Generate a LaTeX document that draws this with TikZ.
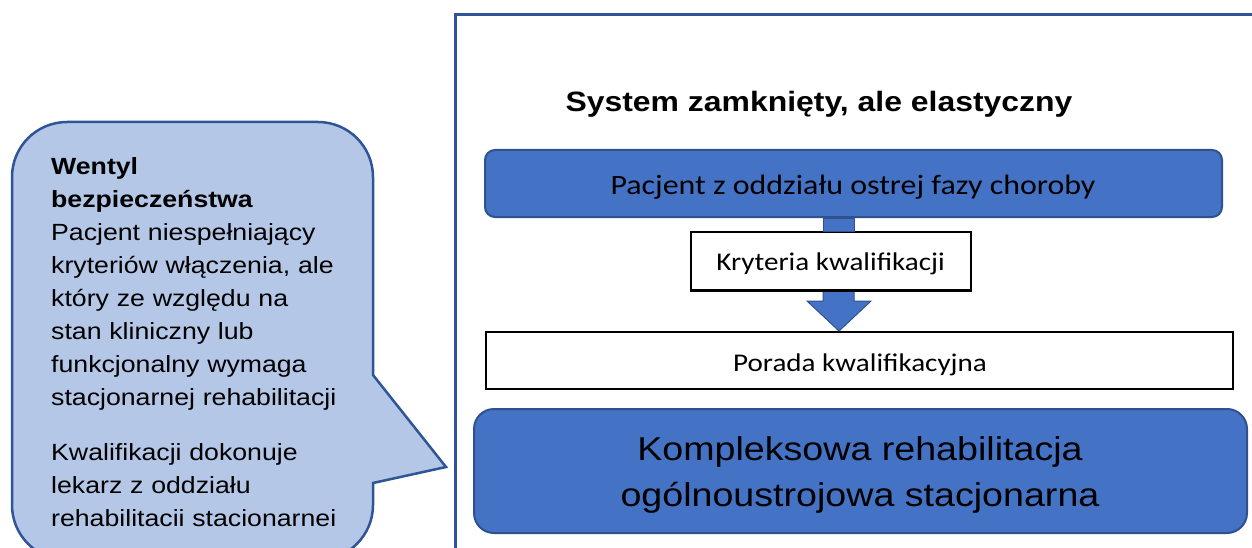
\documentclass[tikz,border=0pt]{standalone}
\usepackage{fontspec}
\setmainfont{Liberation Sans}[FakeStretch=1.14]
\newfontfamily\calfont{Carlito}[FakeStretch=1.14]
\definecolor{boxblue}{HTML}{4472C4}
\definecolor{boxedge}{HTML}{2F528F}
\definecolor{bubblefill}{HTML}{B4C7E7}
\definecolor{frameblue}{HTML}{2F5597}
\tikzset{
  bluebox/.style={draw=boxedge, fill=boxblue, line width=2, inner sep=0pt},
  whitebox/.style={draw=black, fill=white, inner sep=0pt},
  boxtext/.style={font=\calfont\fontsize{28}{34}\selectfont, anchor=base, inner sep=0pt},
  smalltext/.style={font=\calfont\fontsize{25.5}{30}\selectfont, anchor=base, inner sep=0pt},
  bigtext/.style={font=\fontsize{33}{46}\selectfont, anchor=base, inner sep=0pt},
  bubbletext/.style={font=\fontsize{23.4}{33}\selectfont, anchor=base west, inner sep=0pt, text width=340, align=left},
  blockarrow/.style={fill=boxblue, draw=boxedge, line width=1},
}
\begin{document}
\begin{tikzpicture}[x=1pt,y=-1pt]
\useasboundingbox (0,0) rectangle (1252,548);
\clip (0,0) rectangle (1252,548);
\fill[white] (0,0) rectangle (1252,548);

% outer frame
\draw[frameblue, line width=3] (455.5,600) -- (455.5,14.5) -- (1300,14.5);

% callout bubble
\filldraw[fill=bubblefill, draw=frameblue, line width=2.5]
  (12,505) -- (12,177) arc[start angle=180, end angle=270, radius=55]
  -- (318,122) arc[start angle=270, end angle=360, radius=55]
  -- (373,375) -- (446,467) -- (373,483) -- (373,505)
  arc[start angle=0, end angle=90, radius=55]
  -- (67,560) arc[start angle=90, end angle=180, radius=55] -- cycle;

\node[bubbletext] (bt1) at (51,175) {\textbf{Wentyl}\\\textbf{bezpieczeństwa}\\Pacjent niespełniający\\kryteriów włączenia, ale\\który ze względu na\\stan kliniczny lub\\funkcjonalny wymaga\\stacjonarnej rehabilitacji};
\node[bubbletext] (bt2) at (51,460) {Kwalifikacji dokonuje\\lekarz z oddziału\\rehabilitacii stacionarnei};

% title
\node[font=\bfseries\fontsize{28}{34}\selectfont, anchor=base, inner sep=0pt] (title) at (819,112) {System zamknięty, ale elastyczny};

% connectors (block arrows)
\coordinate (axl) at (823,0);
\coordinate (axr) at (854,0);
\coordinate (ahl) at (807,0);
\coordinate (ahr) at (871,0);
\coordinate (tip) at (839,331);

% boxes
\node[bluebox, rounded corners=10, minimum width=737, minimum height=67] (b1) at (853.5,183.5) {};
\node[whitebox, line width=1.5, minimum width=280, minimum height=58] (b2) at (831,261) {};
\node[whitebox, line width=2.5, minimum width=747, minimum height=57] (b3) at (859.5,360.5) {};
\node[bluebox, rounded corners=20, minimum width=773, minimum height=124] (b4) at (860.5,471) {};

\path[blockarrow] (axl |- b1.south) rectangle (axr |- b2.north);
\path[blockarrow] (axl |- b2.south) -- (axl |- 0,301) -- (ahl |- 0,301) -- (tip)
  -- (ahr |- 0,301) -- (axr |- 0,301) -- (axr |- b2.south);
\draw[black, line width=1.5] (b2.south west) -- (b2.south east);

% texts
\node[boxtext] (t1) at (853,195) {Pacjent z oddziału ostrej fazy choroby};
\node[smalltext] (t2) at (830.5,270) {Kryteria kwalifikacji};
\node[smalltext] (t3) at (860,371) {Porada kwalifikacyjna};
\node[bigtext] (t4a) at (860,460) {Kompleksowa rehabilitacja};
\node[bigtext] (t4b) at (860,506) {ogólnoustrojowa stacjonarna};
\end{tikzpicture}
\end{document}
